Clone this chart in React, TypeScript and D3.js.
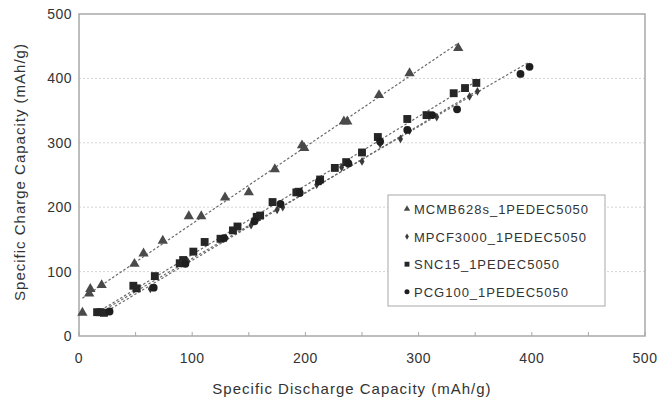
import React from "react";
import * as d3 from "d3";

// Specific discharge (x) vs. specific charge (y) capacity, mAh/g
const mcmb: [number, number][] = [
  [3, 36], [9, 66], [10, 73], [20, 79], [49, 112], [57, 128], [74, 148],
  [97, 186], [108, 186], [129, 215], [150, 223], [173, 259], [197, 296],
  [199, 292], [234, 333], [237, 333], [265, 374], [292, 408], [335, 447],
];
const mpcf: [number, number][] = [
  [25, 37], [63, 73], [96, 116], [130, 152], [152, 172], [175, 196],
  [180, 200], [210, 235], [232, 262], [250, 271], [266, 298], [284, 306],
  [292, 319], [316, 340], [345, 372], [352, 380],
];
const snc: [number, number][] = [
  [16, 37], [19, 37], [22, 36], [48, 78], [51, 74], [67, 93], [89, 113],
  [92, 118], [101, 131], [111, 146], [125, 151], [136, 164], [140, 170],
  [157, 185], [160, 187], [171, 208], [192, 223], [194, 224], [213, 243],
  [226, 261], [236, 270], [250, 285], [264, 309], [290, 337], [307, 343],
  [331, 377], [341, 385], [351, 393],
];
const pcg: [number, number][] = [
  [27, 38], [66, 75], [94, 112], [128, 152], [155, 178], [178, 205],
  [195, 222], [212, 240], [238, 268], [266, 302], [290, 320], [312, 343],
  [334, 352], [390, 407], [398, 418],
];

const seriesNames = [
  "MCMB628s_1PEDEC5050",
  "MPCF3000_1PEDEC5050",
  "SNC15_1PEDEC5050",
  "PCG100_1PEDEC5050",
];
const xTicks = [0, 100, 200, 300, 400, 500];
const yTicks = [0, 100, 200, 300, 400, 500];
const xMinorTicks = [50, 150, 250, 350, 450];

const W = 671;
const H = 403;
const plot = { left: 79, right: 645, top: 14, bottom: 336 };
const font = "'Liberation Sans', Arial, sans-serif";

type Series = {
  name: string;
  data: [number, number][];
  symbol: d3.SymbolType;
  size: number;
  legendSize: number;
  fill: string;
};

const series: Series[] = [
  { name: seriesNames[0], data: mcmb, symbol: d3.symbolTriangle, size: 46, legendSize: 18, fill: "#4a4a4a" },
  { name: seriesNames[1], data: mpcf, symbol: d3.symbolDiamond, size: 22, legendSize: 12, fill: "#3a3a3a" },
  { name: seriesNames[2], data: snc, symbol: d3.symbolSquare, size: 62, legendSize: 24, fill: "#262626" },
  { name: seriesNames[3], data: pcg, symbol: d3.symbolCircle, size: 48, legendSize: 20, fill: "#1e1e1e" },
];

// Least-squares trend line for a series, drawn over its x range
function fit(data: [number, number][]) {
  const mx = d3.mean(data, (d) => d[0])!;
  const my = d3.mean(data, (d) => d[1])!;
  let sxy = 0;
  let sxx = 0;
  data.forEach(([x, y]) => {
    sxy += (x - mx) * (y - my);
    sxx += (x - mx) * (x - mx);
  });
  const slope = sxy / sxx;
  const icpt = my - slope * mx;
  const [x0, x1] = d3.extent(data, (d) => d[0]) as [number, number];
  return [
    [x0, icpt + slope * x0],
    [x1, icpt + slope * x1],
  ] as [number, number][];
}

export default function App() {
  const x = d3.scaleLinear().domain([0, 500]).range([plot.left, plot.right]);
  const y = d3.scaleLinear().domain([0, 500]).range([plot.bottom, plot.top]);
  const line = d3
    .line<[number, number]>()
    .x((d) => x(d[0]))
    .y((d) => y(d[1]));

  const legend = { left: 388, top: 195, width: 217, height: 111, row: 27.6 };

  return (
    <svg
      width={W}
      height={H}
      style={{ position: "absolute", left: 0, top: 0, background: "#fff" }}
      fontFamily={font}
    >
      <rect x={0} y={0} width={W} height={H} fill="#fff" />

      {/* horizontal gridlines */}
      {yTicks.slice(1, -1).map((t) => (
        <line
          key={`g${t}`}
          x1={plot.left}
          x2={plot.right}
          y1={y(t)}
          y2={y(t)}
          stroke="#d4d4d4"
          strokeWidth={1}
          strokeDasharray="2,2"
        />
      ))}

      {/* plot frame */}
      <rect
        x={plot.left}
        y={plot.top}
        width={plot.right - plot.left}
        height={plot.bottom - plot.top}
        fill="none"
        stroke="#a8a8a8"
        strokeWidth={1.5}
      />

      {/* x tick marks */}
      {[...xTicks, ...xMinorTicks].map((t) => (
        <line
          key={`xt${t}`}
          x1={x(t)}
          x2={x(t)}
          y1={plot.bottom}
          y2={plot.bottom - 4}
          stroke="#a8a8a8"
          strokeWidth={1}
        />
      ))}

      {/* trend lines */}
      {series.map((s) => (
        <path
          key={`l${s.name}`}
          d={line(fit(s.data)) || ""}
          fill="none"
          stroke="#6a6a6a"
          strokeWidth={1.2}
          strokeDasharray="2.5,2"
        />
      ))}

      {/* markers */}
      {series.map((s) => (
        <g key={`m${s.name}`} fill={s.fill}>
          {s.data.map((d, i) => (
            <path
              key={i}
              transform={`translate(${x(d[0])},${y(d[1])})`}
              d={d3.symbol().type(s.symbol).size(s.size)() || ""}
            />
          ))}
        </g>
      ))}

      {/* tick labels */}
      {xTicks.map((t) => (
        <text
          key={`xl${t}`}
          x={x(t)}
          y={363}
          textAnchor="middle"
          fontSize={14}
          letterSpacing={0.5}
          fill="#333"
        >
          {t}
        </text>
      ))}
      {yTicks.map((t) => (
        <text
          key={`yl${t}`}
          x={72}
          y={y(t) + 5}
          textAnchor="end"
          fontSize={14}
          letterSpacing={0.5}
          fill="#333"
        >
          {t}
        </text>
      ))}

      {/* axis titles */}
      <text
        x={352}
        y={394}
        textAnchor="middle"
        fontSize={15}
        letterSpacing={1}
        fill="#333"
      >
        Specific Discharge Capacity (mAh/g)
      </text>
      <text
        transform="translate(25,172) rotate(-90)"
        textAnchor="middle"
        fontSize={15}
        letterSpacing={1}
        fill="#333"
      >
        Specific Charge Capacity (mAh/g)
      </text>

      {/* legend */}
      <rect
        x={legend.left}
        y={legend.top}
        width={legend.width}
        height={legend.height}
        fill="#fff"
        stroke="#a8a8a8"
        strokeWidth={1}
      />
      {series.map((s, i) => {
        const cy = legend.top + 14 + i * legend.row;
        return (
          <g key={`lg${s.name}`}>
            <path
              transform={`translate(${legend.left + 19},${cy})`}
              d={d3.symbol().type(s.symbol).size(s.legendSize)() || ""}
              fill={s.fill}
            />
            <text
              x={legend.left + 26}
              y={cy + 5}
              fontSize={13}
              letterSpacing={1}
              fill="#333"
            >
              {s.name}
            </text>
          </g>
        );
      })}
    </svg>
  );
}
